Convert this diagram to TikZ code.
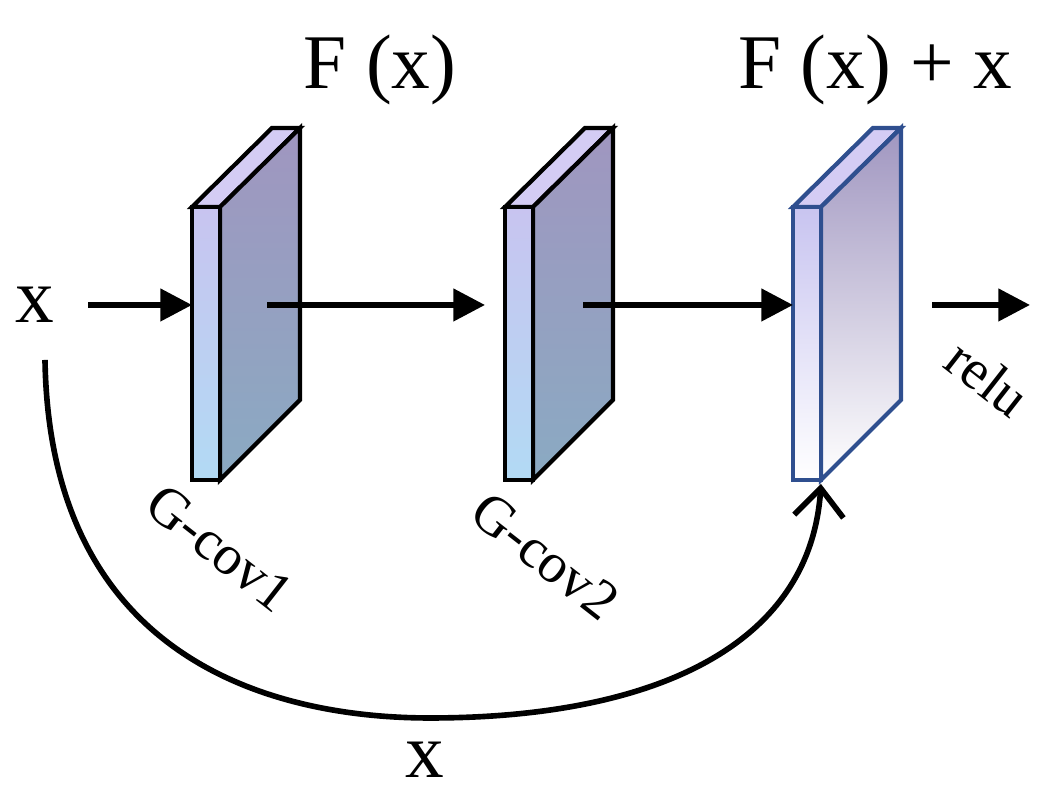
\documentclass[tikz,border=0pt]{standalone}
\usepackage{fontspec}
\setmainfont{Liberation Serif}
\usetikzlibrary{arrows.meta}
\definecolor{topface}{HTML}{D4CCF4}
\definecolor{frontA}{HTML}{C8C4F0}
\definecolor{frontB}{HTML}{B2DAF4}
\definecolor{sideA}{HTML}{A096C0}
\definecolor{sideB}{HTML}{8AAAC2}
\definecolor{edgeblue}{HTML}{2F4F8F}
\tikzset{
  flow/.style={line width=1.6pt,-{Triangle[length=9pt,width=9pt]}},
  lbl/.style={font=\fontsize{22}{26}\selectfont},
  small/.style={font=\fontsize{16}{19}\selectfont,rotate=-38}
}
\newcommand{\convblock}[5]{% x, edge, front bottom, side bottom, name
  \fill[topface,draw=#2,line width=1.2pt] (#1,5.91)--(#1+0.28,5.91)--(#1+1.08,6.70)--(#1+0.80,6.70)--cycle;
  \shade[top color=sideA,bottom color=#4,draw=#2,line width=1.2pt] (#1+0.28,5.91)--(#1+1.08,6.70)--(#1+1.08,3.98)--(#1+0.28,3.18)--cycle;
  \shade[top color=frontA,bottom color=#3,draw=#2,line width=1.2pt] (#1,5.91) rectangle (#1+0.28,3.18);
  \coordinate (#5) at (#1,4.93);
  \coordinate (#5c) at (#1+0.83,4.93);
  \coordinate (#5b) at (#1+0.28,3.14);
}
\begin{document}
\begin{tikzpicture}
\useasboundingbox (0,0) rectangle (10.56,7.98);
\convblock{1.92}{black}{frontB}{sideB}{gc1}
\convblock{5.05}{black}{frontB}{sideB}{gc2}
\convblock{7.93}{edgeblue}{white}{white}{add}
\node[lbl] (xin) at (0.35,4.93) {x};
\coordinate (xs) at (0.45,4.38);
\coordinate (xstart) at (0.88,4.93);
\coordinate (out) at (10.30,4.93);
\coordinate (outs) at (9.32,4.93);
\coordinate (gc2in) at (4.85,4.93);
\draw[flow] (xstart) -- (gc1);
\draw[flow] (gc1c) ++(-0.08,0) -- (gc2in);
\draw[flow] (gc2c) ++(-0.05,0) -- (add);
\draw[flow] (outs) -- (out);
\draw[line width=1.6pt,-{Straight Barb[length=8pt,width=14pt]}] (xs) .. controls (0.5,1.2) and (3.0,0.8) .. (4.3,0.8) .. controls (6.5,0.8) and (8.1,1.5) .. (addb);
\node[lbl] (fx) at (3.8,7.28) {F (x)};
\node[lbl] (fxx) at (8.75,7.28) {F (x) + x};
\node[lbl] (xskip) at (4.25,0.38) {x};
\node[small] (relu) at (9.88,4.2) {relu};
\node[small] (l1) at (2.2,2.5) {G-cov1};
\node[small] (l2) at (5.45,2.42) {G-cov2};
\end{tikzpicture}
\end{document}
